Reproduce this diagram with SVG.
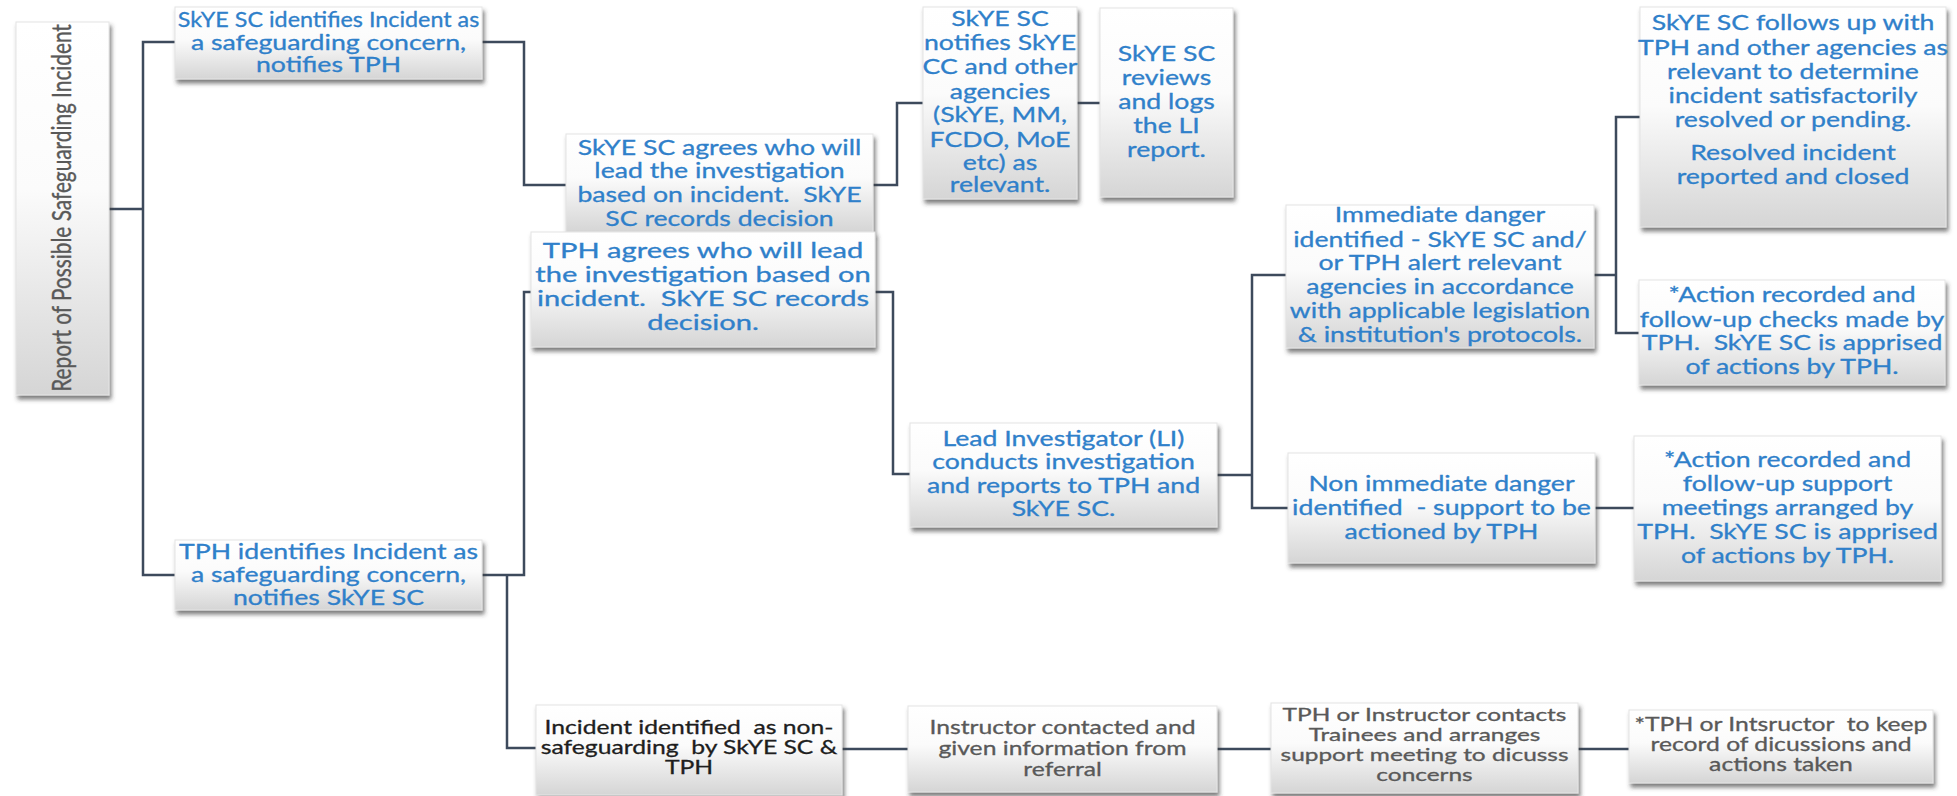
<svg xmlns="http://www.w3.org/2000/svg" width="1957" height="796" viewBox="0 0 1957 796">
<defs>
<linearGradient id="bg" x1="0" y1="0" x2="0" y2="1">
<stop offset="0" stop-color="#ffffff"/>
<stop offset="0.45" stop-color="#fbfbfb"/>
<stop offset="1" stop-color="#d5d5d5"/>
</linearGradient>
<filter id="sh" x="-10%" y="-10%" width="125%" height="135%">
<feDropShadow dx="2" dy="4" stdDeviation="2" flood-color="#3a3a3a" flood-opacity="0.65"/>
</filter>
<style>
rect.b{fill:url(#bg);stroke:#e4e4e4;stroke-width:1;filter:url(#sh)}
text{font-family:Lato,"Open Sans","Liberation Sans",sans-serif;text-anchor:middle;white-space:pre}
.bl{fill:#2f80ca;stroke:#2f80ca;stroke-width:0.3;font-size:20.5px}
.gr{fill:#595959;stroke:#595959;stroke-width:0.3;font-size:19px}
.gs{fill:#595959;stroke:#595959;stroke-width:0.3;font-size:16.5px}
.dk{fill:#1e1e1e;stroke:#1e1e1e;stroke-width:0.3;font-size:19px}
.rt{fill:#595959;stroke:#595959;stroke-width:0.3;font-size:20.8px}
#connectors path{fill:none;stroke:#3d4a5c;stroke-width:2.5}
</style>
</defs>
<rect width="1957" height="796" fill="#ffffff"/>
<g id="connectors">
<path d="M109,209 H143"/>
<path d="M175,42 H143 V575 H175"/>
<path d="M482,42 H524 V185 H566"/>
<path d="M482,575 H524 V292 H531"/>
<path d="M507,575 V748 H536"/>
<path d="M873,185 H897 V103 H923"/>
<path d="M1077,103 H1100"/>
<path d="M875,292 H893 V474 H910"/>
<path d="M1217,475 H1252"/>
<path d="M1286,275 H1252 V508 H1288"/>
<path d="M1594,275 H1616"/>
<path d="M1640,117 H1616 V333 H1639"/>
<path d="M1595,508 H1634"/>
<path d="M842,749 H908"/>
<path d="M1217,749 H1271"/>
<path d="M1578,749 H1629"/>
</g>
<g id="n0">
<rect class="b" x="16" y="22" width="93" height="373"/>
<g transform="translate(62 208) scale(1.25 1) rotate(-90)"><text class="rt" x="0" y="7">Report of Possible Safeguarding Incident</text></g>
</g>
<g id="n1">
<rect class="b" x="175" y="7" width="307" height="72"/>
<g transform="translate(328.5 0) scale(1.3 1)">
<text class="bl" x="0" y="27" textLength="232" lengthAdjust="spacingAndGlyphs">SkYE SC identifies Incident as</text>
<text class="bl" x="0" y="50">a safeguarding concern,</text>
<text class="bl" x="0" y="72">notifies TPH</text>
</g>
</g>
<g id="n13">
<rect class="b" x="175" y="540" width="307" height="70"/>
<g transform="translate(328.5 0) scale(1.3 1)">
<text class="bl" x="0" y="559">TPH identifies Incident as</text>
<text class="bl" x="0" y="582">a safeguarding concern,</text>
<text class="bl" x="0" y="605">notifies SkYE SC</text>
</g>
</g>
<g id="n3">
<rect class="b" x="566" y="134" width="307" height="98"/>
<g transform="translate(719.5 0) scale(1.3 1)">
<text class="bl" x="0" y="155">SkYE SC agrees who will</text>
<text class="bl" x="0" y="178">lead the investigation</text>
<text class="bl" x="0" y="202">based on incident.  SkYE</text>
<text class="bl" x="0" y="226">SC records decision</text>
</g>
</g>
<g id="n4">
<rect class="b" x="531" y="232" width="344" height="115"/>
<g transform="translate(703 0) scale(1.42 1)">
<text class="bl" x="0" y="258">TPH agrees who will lead</text>
<text class="bl" x="0" y="282">the investigation based on</text>
<text class="bl" x="0" y="306">incident.  SkYE SC records</text>
<text class="bl" x="0" y="330">decision.</text>
</g>
</g>
<g id="n5">
<rect class="b" x="923" y="7" width="154" height="192"/>
<g transform="translate(1000 0) scale(1.3 1)">
<text class="bl" x="0" y="26">SkYE SC</text>
<text class="bl" x="0" y="50">notifies SkYE</text>
<text class="bl" x="0" y="74">CC and other</text>
<text class="bl" x="0" y="99">agencies</text>
<text class="bl" x="0" y="122">(SkYE, MM,</text>
<text class="bl" x="0" y="147">FCDO, MoE</text>
<text class="bl" x="0" y="170">etc) as</text>
<text class="bl" x="0" y="192">relevant.</text>
</g>
</g>
<g id="n6">
<rect class="b" x="1100" y="8" width="133" height="189"/>
<g transform="translate(1166.5 0) scale(1.3 1)">
<text class="bl" x="0" y="61">SkYE SC</text>
<text class="bl" x="0" y="85">reviews</text>
<text class="bl" x="0" y="109">and logs</text>
<text class="bl" x="0" y="133">the LI</text>
<text class="bl" x="0" y="157">report.</text>
</g>
</g>
<g id="n7">
<rect class="b" x="1640" y="7" width="306" height="220"/>
<g transform="translate(1793 0) scale(1.3 1)">
<text class="bl" x="0" y="30">SkYE SC follows up with</text>
<text class="bl" x="0" y="55">TPH and other agencies as</text>
<text class="bl" x="0" y="79">relevant to determine</text>
<text class="bl" x="0" y="103">incident satisfactorily</text>
<text class="bl" x="0" y="127">resolved or pending.</text>
<text class="bl" x="0" y="160">Resolved incident</text>
<text class="bl" x="0" y="184">reported and closed</text>
</g>
</g>
<g id="n8">
<rect class="b" x="1286" y="205" width="308" height="143"/>
<g transform="translate(1440 0) scale(1.3 1)">
<text class="bl" x="0" y="222">Immediate danger</text>
<text class="bl" x="0" y="247">identified - SkYE SC and/</text>
<text class="bl" x="0" y="270">or TPH alert relevant</text>
<text class="bl" x="0" y="294">agencies in accordance</text>
<text class="bl" x="0" y="318">with applicable legislation</text>
<text class="bl" x="0" y="342">&amp; institution's protocols.</text>
</g>
</g>
<g id="n9">
<rect class="b" x="1639" y="280" width="306" height="105"/>
<g transform="translate(1792 0) scale(1.3 1)">
<text class="bl" x="0" y="302">*Action recorded and</text>
<text class="bl" x="0" y="327">follow-up checks made by</text>
<text class="bl" x="0" y="350">TPH.  SkYE SC is apprised</text>
<text class="bl" x="0" y="374">of actions by TPH.</text>
</g>
</g>
<g id="n10">
<rect class="b" x="910" y="423" width="307" height="104"/>
<g transform="translate(1063.5 0) scale(1.3 1)">
<text class="bl" x="0" y="446">Lead Investigator (LI)</text>
<text class="bl" x="0" y="469">conducts investigation</text>
<text class="bl" x="0" y="493">and reports to TPH and</text>
<text class="bl" x="0" y="516">SkYE SC.</text>
</g>
</g>
<g id="n11">
<rect class="b" x="1288" y="453" width="307" height="110"/>
<g transform="translate(1441.5 0) scale(1.3 1)">
<text class="bl" x="0" y="491">Non immediate danger</text>
<text class="bl" x="0" y="515">identified  - support to be</text>
<text class="bl" x="0" y="539">actioned by TPH</text>
</g>
</g>
<g id="n12">
<rect class="b" x="1634" y="436" width="307" height="145"/>
<g transform="translate(1787.5 0) scale(1.3 1)">
<text class="bl" x="0" y="467">*Action recorded and</text>
<text class="bl" x="0" y="491">follow-up support</text>
<text class="bl" x="0" y="515">meetings arranged by</text>
<text class="bl" x="0" y="539">TPH.  SkYE SC is apprised</text>
<text class="bl" x="0" y="563">of actions by TPH.</text>
</g>
</g>
<g id="n14">
<rect class="b" x="536" y="705" width="306" height="90"/>
<g transform="translate(689 0) scale(1.3 1)">
<text class="dk" x="0" y="734">Incident identified  as non-</text>
<text class="dk" x="0" y="754">safeguarding  by SkYE SC &amp;</text>
<text class="dk" x="0" y="774">TPH</text>
</g>
</g>
<g id="n15">
<rect class="b" x="908" y="706" width="309" height="86"/>
<g transform="translate(1062.5 0) scale(1.3 1)">
<text class="gr" x="0" y="734">Instructor contacted and</text>
<text class="gr" x="0" y="755">given information from</text>
<text class="gr" x="0" y="776">referral</text>
</g>
</g>
<g id="n16">
<rect class="b" x="1271" y="703" width="307" height="90"/>
<g transform="translate(1424.5 0) scale(1.48 1)">
<text class="gs" x="0" y="721">TPH or Instructor contacts</text>
<text class="gs" x="0" y="741">Trainees and arranges</text>
<text class="gs" x="0" y="761">support meeting to dicusss</text>
<text class="gs" x="0" y="781">concerns</text>
</g>
</g>
<g id="n17">
<rect class="b" x="1629" y="710" width="304" height="73"/>
<g transform="translate(1781 0) scale(1.3 1)">
<text class="gr" x="0" y="731">*TPH or Intsructor  to keep</text>
<text class="gr" x="0" y="751">record of dicussions and</text>
<text class="gr" x="0" y="771">actions taken</text>
</g>
</g>
</svg>
